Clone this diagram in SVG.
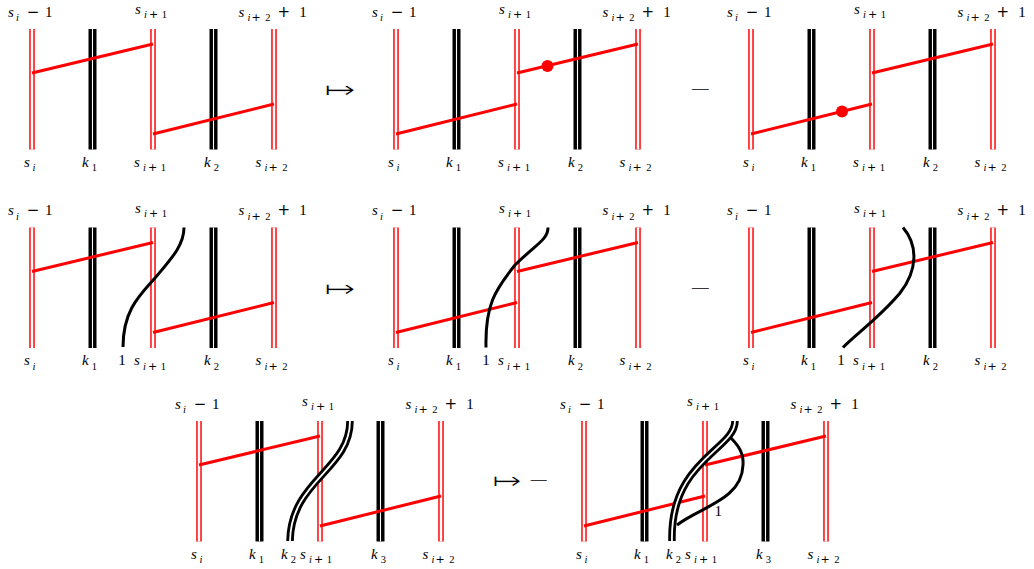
<svg xmlns="http://www.w3.org/2000/svg" xmlns:xlink="http://www.w3.org/1999/xlink" width="1034" height="569" viewBox="0 0 1034 569">
<style>
.rv{stroke:#f00;stroke-width:5.5;fill:none}
.rvw{stroke:#fff;stroke-width:2.6;fill:none}
.bv{stroke:#000;stroke-width:8;fill:none}
.bvw{stroke:#fff;stroke-width:1.1;fill:none}
.rr{stroke:#f00;stroke-width:3;fill:none}
.cv{stroke:#000;stroke-width:3;fill:none}
.dc{stroke:#000;stroke-width:7.5;fill:none}
.dcw{stroke:#fff;stroke-width:1.8;fill:none}
.dot{fill:#f00}
.l{font-family:"Liberation Serif",serif;font-size:15px;fill:#000}
.i{font-style:italic}
.s{font-size:10.5px}
.o{font-family:"DejaVu Sans",sans-serif;font-size:15px}
.os{font-family:"DejaVu Sans",sans-serif;font-size:11px}
.sym{font-family:"DejaVu Sans ExtraLight","DejaVu Sans",sans-serif;font-weight:200;fill:#000}
.arr{font-family:"DejaVu Sans",sans-serif;fill:#000;stroke:#fff;stroke-width:0.7}
</style>
<defs>
<g id="verts">
<path class="rv" d="M0,0V120.5M121,0V120.5M242,0V120.5"/>
<path class="rvw" d="M0,0V120.5M121,0V120.5M242,0V120.5"/>
<path class="bv" d="M60.5,0V120.5M181.5,0V120.5"/>
<path class="bvw" d="M60.5,0V120.5M181.5,0V120.5"/>
</g>
</defs>
<rect width="1034" height="569" fill="#fff"/>

<!-- Row 1 -->
<g id="d1" transform="translate(32,29)">
<use xlink:href="#verts"/>
<g id="d1-conn"><path class="rr" d="M0,44L121,15M121,105L242,75"/></g>
<text class="l" x="-24" y="-12.3"><tspan class="i">s</tspan><tspan class="i s" dx="2.2" dy="4.3">i</tspan><tspan class="o" dx="7.8" dy="-4.3">−</tspan><tspan dx="5.7">1</tspan></text>
<text class="l" x="103" y="-15"><tspan class="i">s</tspan><tspan class="i s" dx="3.2" dy="4.3">i</tspan><tspan class="os" dx="2">+</tspan><tspan class="s" dx="3.5">1</tspan></text>
<text class="l" x="206.5" y="-12.3"><tspan class="i">s</tspan><tspan class="i s" dx="3.2" dy="4.3">i</tspan><tspan class="os" dx="1">+</tspan><tspan class="s" dx="4.5">2</tspan><tspan class="o" dx="7" dy="-4.3">+</tspan><tspan dx="9.3">1</tspan></text>
<text class="l" x="-8" y="137.7"><tspan class="i">s</tspan><tspan class="i s" dx="2.7" dy="4.5">i</tspan></text>
<text class="l" x="50" y="137.7"><tspan class="i">k</tspan><tspan class="s" dx="3.1" dy="4.5">1</tspan></text>
<text class="l" x="102" y="137.7"><tspan class="i">s</tspan><tspan class="i s" dx="3.2" dy="4.5">i</tspan><tspan class="os" dx="2">+</tspan><tspan class="s" dx="3.5">1</tspan></text>
<text class="l" x="172" y="137.7"><tspan class="i">k</tspan><tspan class="s" dx="3" dy="4.5">2</tspan></text>
<text class="l" x="223.5" y="137.7"><tspan class="i">s</tspan><tspan class="i s" dx="3.2" dy="4.5">i</tspan><tspan class="os" dx="1">+</tspan><tspan class="s" dx="4.5">2</tspan></text>
</g>

<g id="d2" transform="translate(396,29)">
<use xlink:href="#verts"/>
<g id="d2-conn"><path class="rr" d="M0,105L121,75M121,44L242,15"/></g>
<circle class="dot" cx="151.5" cy="37" r="6"/>
<text class="l" x="-24" y="-12.3"><tspan class="i">s</tspan><tspan class="i s" dx="2.2" dy="4.3">i</tspan><tspan class="o" dx="7.8" dy="-4.3">−</tspan><tspan dx="5.7">1</tspan></text>
<text class="l" x="103" y="-15"><tspan class="i">s</tspan><tspan class="i s" dx="3.2" dy="4.3">i</tspan><tspan class="os" dx="2">+</tspan><tspan class="s" dx="3.5">1</tspan></text>
<text class="l" x="206.5" y="-12.3"><tspan class="i">s</tspan><tspan class="i s" dx="3.2" dy="4.3">i</tspan><tspan class="os" dx="1">+</tspan><tspan class="s" dx="4.5">2</tspan><tspan class="o" dx="7" dy="-4.3">+</tspan><tspan dx="9.3">1</tspan></text>
<text class="l" x="-8" y="137.7"><tspan class="i">s</tspan><tspan class="i s" dx="2.7" dy="4.5">i</tspan></text>
<text class="l" x="50" y="137.7"><tspan class="i">k</tspan><tspan class="s" dx="3.1" dy="4.5">1</tspan></text>
<text class="l" x="102" y="137.7"><tspan class="i">s</tspan><tspan class="i s" dx="3.2" dy="4.5">i</tspan><tspan class="os" dx="2">+</tspan><tspan class="s" dx="3.5">1</tspan></text>
<text class="l" x="172" y="137.7"><tspan class="i">k</tspan><tspan class="s" dx="3" dy="4.5">2</tspan></text>
<text class="l" x="223.5" y="137.7"><tspan class="i">s</tspan><tspan class="i s" dx="3.2" dy="4.5">i</tspan><tspan class="os" dx="1">+</tspan><tspan class="s" dx="4.5">2</tspan></text>
</g>

<g id="d3" transform="translate(751,29)">
<use xlink:href="#verts"/>
<g id="d3-conn"><path class="rr" d="M0,105L121,75M121,44L242,15"/></g>
<circle class="dot" cx="91" cy="82.5" r="6"/>
<text class="l" x="-24" y="-12.3"><tspan class="i">s</tspan><tspan class="i s" dx="2.2" dy="4.3">i</tspan><tspan class="o" dx="7.8" dy="-4.3">−</tspan><tspan dx="5.7">1</tspan></text>
<text class="l" x="103" y="-15"><tspan class="i">s</tspan><tspan class="i s" dx="3.2" dy="4.3">i</tspan><tspan class="os" dx="2">+</tspan><tspan class="s" dx="3.5">1</tspan></text>
<text class="l" x="206.5" y="-12.3"><tspan class="i">s</tspan><tspan class="i s" dx="3.2" dy="4.3">i</tspan><tspan class="os" dx="1">+</tspan><tspan class="s" dx="4.5">2</tspan><tspan class="o" dx="7" dy="-4.3">+</tspan><tspan dx="9.3">1</tspan></text>
<text class="l" x="-8" y="137.7"><tspan class="i">s</tspan><tspan class="i s" dx="2.7" dy="4.5">i</tspan></text>
<text class="l" x="50" y="137.7"><tspan class="i">k</tspan><tspan class="s" dx="3.1" dy="4.5">1</tspan></text>
<text class="l" x="102" y="137.7"><tspan class="i">s</tspan><tspan class="i s" dx="3.2" dy="4.5">i</tspan><tspan class="os" dx="2">+</tspan><tspan class="s" dx="3.5">1</tspan></text>
<text class="l" x="172" y="137.7"><tspan class="i">k</tspan><tspan class="s" dx="3" dy="4.5">2</tspan></text>
<text class="l" x="223.5" y="137.7"><tspan class="i">s</tspan><tspan class="i s" dx="3.2" dy="4.5">i</tspan><tspan class="os" dx="1">+</tspan><tspan class="s" dx="4.5">2</tspan></text>
</g>

<!-- Row 2 -->
<g id="d4" transform="translate(32,227.5)">
<use xlink:href="#verts"/>
<g id="d4-conn"><path class="rr" d="M0,44L121,15M121,105L242,75"/>
<path class="cv" d="M91,119.5C91,82.5 108,67.5 123,50.5C140,30.5 152,17.5 152,0"/></g>
<text class="l" x="-24" y="-12.3"><tspan class="i">s</tspan><tspan class="i s" dx="2.2" dy="4.3">i</tspan><tspan class="o" dx="7.8" dy="-4.3">−</tspan><tspan dx="5.7">1</tspan></text>
<text class="l" x="103" y="-15"><tspan class="i">s</tspan><tspan class="i s" dx="3.2" dy="4.3">i</tspan><tspan class="os" dx="2">+</tspan><tspan class="s" dx="3.5">1</tspan></text>
<text class="l" x="206.5" y="-12.3"><tspan class="i">s</tspan><tspan class="i s" dx="3.2" dy="4.3">i</tspan><tspan class="os" dx="1">+</tspan><tspan class="s" dx="4.5">2</tspan><tspan class="o" dx="7" dy="-4.3">+</tspan><tspan dx="9.3">1</tspan></text>
<text class="l" x="-8" y="137.7"><tspan class="i">s</tspan><tspan class="i s" dx="2.7" dy="4.5">i</tspan></text>
<text class="l" x="50" y="137.7"><tspan class="i">k</tspan><tspan class="s" dx="3.1" dy="4.5">1</tspan></text>
<text class="l" x="86.3" y="137.7">1</text>
<text class="l" x="102" y="137.7"><tspan class="i">s</tspan><tspan class="i s" dx="3.2" dy="4.5">i</tspan><tspan class="os" dx="2">+</tspan><tspan class="s" dx="3.5">1</tspan></text>
<text class="l" x="172" y="137.7"><tspan class="i">k</tspan><tspan class="s" dx="3" dy="4.5">2</tspan></text>
<text class="l" x="223.5" y="137.7"><tspan class="i">s</tspan><tspan class="i s" dx="3.2" dy="4.5">i</tspan><tspan class="os" dx="1">+</tspan><tspan class="s" dx="4.5">2</tspan></text>
</g>

<g id="d5" transform="translate(396,227.5)">
<use xlink:href="#verts"/>
<g id="d5-conn"><path class="rr" d="M0,105L121,75M121,44L242,15"/>
<path class="cv" d="M90,120C89,77.5 99,62.5 119,37.5C139,17.5 152,12.5 152,0"/></g>
<text class="l" x="-24" y="-12.3"><tspan class="i">s</tspan><tspan class="i s" dx="2.2" dy="4.3">i</tspan><tspan class="o" dx="7.8" dy="-4.3">−</tspan><tspan dx="5.7">1</tspan></text>
<text class="l" x="103" y="-15"><tspan class="i">s</tspan><tspan class="i s" dx="3.2" dy="4.3">i</tspan><tspan class="os" dx="2">+</tspan><tspan class="s" dx="3.5">1</tspan></text>
<text class="l" x="206.5" y="-12.3"><tspan class="i">s</tspan><tspan class="i s" dx="3.2" dy="4.3">i</tspan><tspan class="os" dx="1">+</tspan><tspan class="s" dx="4.5">2</tspan><tspan class="o" dx="7" dy="-4.3">+</tspan><tspan dx="9.3">1</tspan></text>
<text class="l" x="-8" y="137.7"><tspan class="i">s</tspan><tspan class="i s" dx="2.7" dy="4.5">i</tspan></text>
<text class="l" x="50" y="137.7"><tspan class="i">k</tspan><tspan class="s" dx="3.1" dy="4.5">1</tspan></text>
<text class="l" x="86.3" y="137.7">1</text>
<text class="l" x="102" y="137.7"><tspan class="i">s</tspan><tspan class="i s" dx="3.2" dy="4.5">i</tspan><tspan class="os" dx="2">+</tspan><tspan class="s" dx="3.5">1</tspan></text>
<text class="l" x="172" y="137.7"><tspan class="i">k</tspan><tspan class="s" dx="3" dy="4.5">2</tspan></text>
<text class="l" x="223.5" y="137.7"><tspan class="i">s</tspan><tspan class="i s" dx="3.2" dy="4.5">i</tspan><tspan class="os" dx="1">+</tspan><tspan class="s" dx="4.5">2</tspan></text>
</g>

<g id="d6" transform="translate(751,227.5)">
<use xlink:href="#verts"/>
<g id="d6-conn"><path class="rr" d="M0,105L121,75M121,44L242,15"/>
<path class="cv" d="M152,0C167,17.5 167,42.5 149,65.5C129,89.5 104,107.5 92,120"/></g>
<text class="l" x="-24" y="-12.3"><tspan class="i">s</tspan><tspan class="i s" dx="2.2" dy="4.3">i</tspan><tspan class="o" dx="7.8" dy="-4.3">−</tspan><tspan dx="5.7">1</tspan></text>
<text class="l" x="103" y="-15"><tspan class="i">s</tspan><tspan class="i s" dx="3.2" dy="4.3">i</tspan><tspan class="os" dx="2">+</tspan><tspan class="s" dx="3.5">1</tspan></text>
<text class="l" x="206.5" y="-12.3"><tspan class="i">s</tspan><tspan class="i s" dx="3.2" dy="4.3">i</tspan><tspan class="os" dx="1">+</tspan><tspan class="s" dx="4.5">2</tspan><tspan class="o" dx="7" dy="-4.3">+</tspan><tspan dx="9.3">1</tspan></text>
<text class="l" x="-8" y="137.7"><tspan class="i">s</tspan><tspan class="i s" dx="2.7" dy="4.5">i</tspan></text>
<text class="l" x="50" y="137.7"><tspan class="i">k</tspan><tspan class="s" dx="3.1" dy="4.5">1</tspan></text>
<text class="l" x="86.3" y="137.7">1</text>
<text class="l" x="102" y="137.7"><tspan class="i">s</tspan><tspan class="i s" dx="3.2" dy="4.5">i</tspan><tspan class="os" dx="2">+</tspan><tspan class="s" dx="3.5">1</tspan></text>
<text class="l" x="172" y="137.7"><tspan class="i">k</tspan><tspan class="s" dx="3" dy="4.5">2</tspan></text>
<text class="l" x="223.5" y="137.7"><tspan class="i">s</tspan><tspan class="i s" dx="3.2" dy="4.5">i</tspan><tspan class="os" dx="1">+</tspan><tspan class="s" dx="4.5">2</tspan></text>
</g>

<!-- Row 3 -->
<g id="d7" transform="translate(199,421)">
<use xlink:href="#verts"/>
<g id="d7-conn"><path class="rr" d="M0,44L121,15M121,105L242,75"/>
<path class="dc" d="M91,120C92,59 151,49 151,0"/>
<path class="dcw" d="M91,120C92,59 151,49 151,0"/></g>
<text class="l" x="-24" y="-12.3"><tspan class="i">s</tspan><tspan class="i s" dx="2.2" dy="4.3">i</tspan><tspan class="o" dx="7.8" dy="-4.3">−</tspan><tspan dx="5.7">1</tspan></text>
<text class="l" x="103" y="-15"><tspan class="i">s</tspan><tspan class="i s" dx="3.2" dy="4.3">i</tspan><tspan class="os" dx="2">+</tspan><tspan class="s" dx="3.5">1</tspan></text>
<text class="l" x="206.5" y="-12.3"><tspan class="i">s</tspan><tspan class="i s" dx="3.2" dy="4.3">i</tspan><tspan class="os" dx="1">+</tspan><tspan class="s" dx="4.5">2</tspan><tspan class="o" dx="7" dy="-4.3">+</tspan><tspan dx="9.3">1</tspan></text>
<text class="l" x="-8" y="137.7"><tspan class="i">s</tspan><tspan class="i s" dx="2.7" dy="4.5">i</tspan></text>
<text class="l" x="50" y="137.7"><tspan class="i">k</tspan><tspan class="s" dx="3.1" dy="4.5">1</tspan></text>
<text class="l" x="82" y="137.7"><tspan class="i">k</tspan><tspan class="s" dx="3" dy="4.5">2</tspan></text>
<text class="l" x="101" y="137.7"><tspan class="i">s</tspan><tspan class="i s" dx="3.2" dy="4.5">i</tspan><tspan class="os" dx="2">+</tspan><tspan class="s" dx="3.5">1</tspan></text>
<text class="l" x="172" y="137.7"><tspan class="i">k</tspan><tspan class="s" dx="3" dy="4.5">3</tspan></text>
<text class="l" x="223.5" y="137.7"><tspan class="i">s</tspan><tspan class="i s" dx="3.2" dy="4.5">i</tspan><tspan class="os" dx="1">+</tspan><tspan class="s" dx="4.5">2</tspan></text>
</g>

<g id="d8" transform="translate(584,421)">
<use xlink:href="#verts"/>
<g id="d8-conn"><path class="rr" d="M0,105L121,75M121,44L242,15"/>
<path class="dc" d="M88,120C86,39 151,29 151,0"/>
<path class="dcw" d="M88,120C86,39 151,29 151,0"/>
<path class="cv" d="M93,104C116,86 158,79 159,44C160,31 153,23 146,16"/></g>
<text class="l" x="-24" y="-12.3"><tspan class="i">s</tspan><tspan class="i s" dx="2.2" dy="4.3">i</tspan><tspan class="o" dx="7.8" dy="-4.3">−</tspan><tspan dx="5.7">1</tspan></text>
<text class="l" x="103" y="-15"><tspan class="i">s</tspan><tspan class="i s" dx="3.2" dy="4.3">i</tspan><tspan class="os" dx="2">+</tspan><tspan class="s" dx="3.5">1</tspan></text>
<text class="l" x="206.5" y="-12.3"><tspan class="i">s</tspan><tspan class="i s" dx="3.2" dy="4.3">i</tspan><tspan class="os" dx="1">+</tspan><tspan class="s" dx="4.5">2</tspan><tspan class="o" dx="7" dy="-4.3">+</tspan><tspan dx="9.3">1</tspan></text>
<text class="l" x="130.5" y="95">1</text>
<text class="l" x="-8" y="137.7"><tspan class="i">s</tspan><tspan class="i s" dx="2.7" dy="4.5">i</tspan></text>
<text class="l" x="50" y="137.7"><tspan class="i">k</tspan><tspan class="s" dx="3.1" dy="4.5">1</tspan></text>
<text class="l" x="82" y="137.7"><tspan class="i">k</tspan><tspan class="s" dx="3" dy="4.5">2</tspan></text>
<text class="l" x="101" y="137.7"><tspan class="i">s</tspan><tspan class="i s" dx="3.2" dy="4.5">i</tspan><tspan class="os" dx="2">+</tspan><tspan class="s" dx="3.5">1</tspan></text>
<text class="l" x="172" y="137.7"><tspan class="i">k</tspan><tspan class="s" dx="3" dy="4.5">3</tspan></text>
<text class="l" x="223.5" y="137.7"><tspan class="i">s</tspan><tspan class="i s" dx="3.2" dy="4.5">i</tspan><tspan class="os" dx="1">+</tspan><tspan class="s" dx="4.5">2</tspan></text>
</g>

<!-- operators -->
<g id="ops">
<text class="arr" x="324.3" y="98.4" font-size="24" textLength="32" lengthAdjust="spacingAndGlyphs">↦</text>
<text class="sym" x="689.1" y="96" font-size="20" textLength="22.8" lengthAdjust="spacingAndGlyphs">−</text>
<text class="arr" x="324.3" y="296.9" font-size="24" textLength="32" lengthAdjust="spacingAndGlyphs">↦</text>
<text class="sym" x="689.1" y="294.5" font-size="20" textLength="22.8" lengthAdjust="spacingAndGlyphs">−</text>
<text class="arr" x="492.3" y="489" font-size="24" textLength="30" lengthAdjust="spacingAndGlyphs">↦</text>
<text class="sym" x="528.1" y="487" font-size="20" textLength="21.5" lengthAdjust="spacingAndGlyphs">−</text>
</g>
</svg>
